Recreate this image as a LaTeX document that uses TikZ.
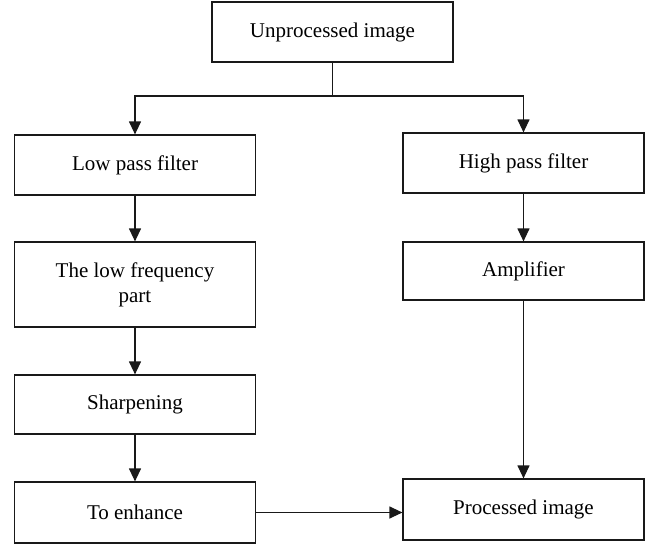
\documentclass[tikz,border=0pt]{standalone}
\usepackage{fontspec}
\setmainfont{Liberation Serif}
\usetikzlibrary{arrows.meta}
\begin{document}
\begin{tikzpicture}[x=1pt,y=-1pt,
  box/.style={draw=black!90, line width=1.2pt, minimum width=241pt, inner sep=0pt, align=center, font=\fontsize{21}{25}\selectfont},
  conn/.style={draw=black!90, line width=1.2pt},
  arr/.style={conn, -{Triangle[length=13pt,width=12pt]}}]
\useasboundingbox (0,0) rectangle (646,544);
\node[box, minimum height=60pt] (top) at (332.5,32) {Unprocessed image};
\node[box, minimum height=60pt] (lp) at (135,165) {Low pass filter};
\node[box, minimum height=60pt] (hp) at (523.5,163) {High pass filter};
\node[box, minimum height=85pt] (lf) at (135,284.5) {The low frequency\\part};
\node[box, minimum height=58pt] (amp) at (523.5,271) {Amplifier};
\node[box, minimum height=59pt] (sh) at (135,404.5) {Sharpening};
\node[box, minimum height=61pt] (te) at (135,512.5) {To enhance};
\node[box, minimum height=61pt] (pi) at (523.5,509.5) {Processed image};
\coordinate (j) at (332.5,96);
\draw[conn] (top.south) -- (j);
\draw[arr] (j) -| (lp.north);
\draw[arr] (j) -| (hp.north);
\draw[arr] (lp) -- (lf);
\draw[arr] (lf) -- (sh);
\draw[arr] (sh) -- (te);
\draw[arr] (hp) -- (amp);
\draw[arr] (amp) -- (pi);
\draw[arr] (te.east) -- (te.east -| pi.west);
\end{tikzpicture}
\end{document}
